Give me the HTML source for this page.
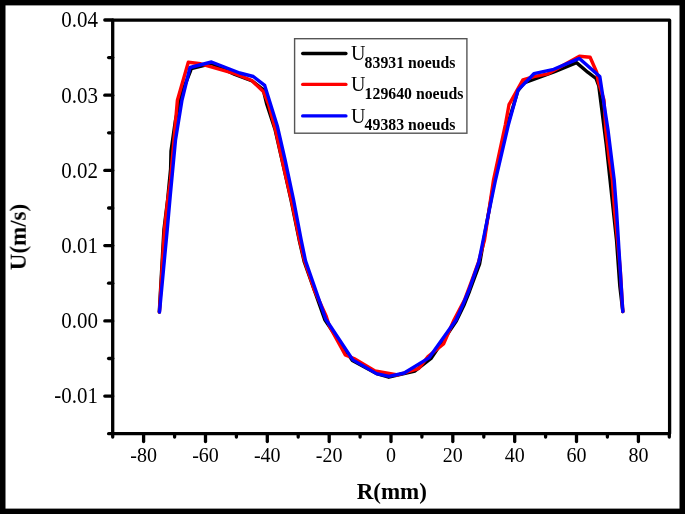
<!DOCTYPE html>
<html><head><meta charset="utf-8"><style>
html,body{margin:0;padding:0;background:#000;}
#c{position:absolute;left:0;top:0;width:685px;height:514px;background:#000;}
svg{position:absolute;left:0;top:0;will-change:transform;}
.tky{font-family:"Liberation Serif",serif;font-size:21px;fill:#000;}
.tk{font-family:"Liberation Serif",serif;font-size:20px;fill:#000;}
.lu{font-family:"Liberation Serif",serif;font-size:20px;fill:#000;}
.ls{font-family:"Liberation Serif",serif;font-size:15.8px;font-weight:bold;fill:#000;}
.at{font-family:"Liberation Serif",serif;font-size:23px;font-weight:bold;fill:#000;}
</style></head><body><div id="c">
<svg width="685" height="514" viewBox="0 0 685 514">
<rect x="5.5" y="5.4" width="674" height="503.2" fill="#fff"/>
<rect x="112.7" y="20.1" width="556.9" height="413.5" fill="none" stroke="#000" stroke-width="3.3" stroke-linejoin="round"/>
<line x1="108.6" y1="433.7" x2="112.7" y2="433.7" stroke="#000" stroke-width="3.3" stroke-linecap="round"/>
<line x1="104.8" y1="396.1" x2="112.7" y2="396.1" stroke="#000" stroke-width="3.3" stroke-linecap="round"/>
<text transform="translate(97.9,403.4) scale(1,1.08)" text-anchor="end" class="tky">-0.01</text>
<line x1="108.6" y1="358.5" x2="112.7" y2="358.5" stroke="#000" stroke-width="3.3" stroke-linecap="round"/>
<line x1="104.8" y1="320.9" x2="112.7" y2="320.9" stroke="#000" stroke-width="3.3" stroke-linecap="round"/>
<text transform="translate(97.9,328.2) scale(1,1.08)" text-anchor="end" class="tky">0.00</text>
<line x1="108.6" y1="283.2" x2="112.7" y2="283.2" stroke="#000" stroke-width="3.3" stroke-linecap="round"/>
<line x1="104.8" y1="245.6" x2="112.7" y2="245.6" stroke="#000" stroke-width="3.3" stroke-linecap="round"/>
<text transform="translate(97.9,252.9) scale(1,1.08)" text-anchor="end" class="tky">0.01</text>
<line x1="108.6" y1="208.0" x2="112.7" y2="208.0" stroke="#000" stroke-width="3.3" stroke-linecap="round"/>
<line x1="104.8" y1="170.4" x2="112.7" y2="170.4" stroke="#000" stroke-width="3.3" stroke-linecap="round"/>
<text transform="translate(97.9,177.7) scale(1,1.08)" text-anchor="end" class="tky">0.02</text>
<line x1="108.6" y1="132.8" x2="112.7" y2="132.8" stroke="#000" stroke-width="3.3" stroke-linecap="round"/>
<line x1="104.8" y1="95.2" x2="112.7" y2="95.2" stroke="#000" stroke-width="3.3" stroke-linecap="round"/>
<text transform="translate(97.9,102.5) scale(1,1.08)" text-anchor="end" class="tky">0.03</text>
<line x1="108.6" y1="57.6" x2="112.7" y2="57.6" stroke="#000" stroke-width="3.3" stroke-linecap="round"/>
<line x1="104.8" y1="20.0" x2="112.7" y2="20.0" stroke="#000" stroke-width="3.3" stroke-linecap="round"/>
<text transform="translate(97.9,27.3) scale(1,1.08)" text-anchor="end" class="tky">0.04</text>
<line x1="112.7" y1="433.6" x2="112.7" y2="437.0" stroke="#000" stroke-width="3.3" stroke-linecap="round"/>
<line x1="143.6" y1="433.6" x2="143.6" y2="441.5" stroke="#000" stroke-width="3.3" stroke-linecap="round"/>
<text x="143.6" y="461.6" text-anchor="middle" class="tk">-80</text>
<line x1="174.6" y1="433.6" x2="174.6" y2="437.0" stroke="#000" stroke-width="3.3" stroke-linecap="round"/>
<line x1="205.5" y1="433.6" x2="205.5" y2="441.5" stroke="#000" stroke-width="3.3" stroke-linecap="round"/>
<text x="205.5" y="461.6" text-anchor="middle" class="tk">-60</text>
<line x1="236.4" y1="433.6" x2="236.4" y2="437.0" stroke="#000" stroke-width="3.3" stroke-linecap="round"/>
<line x1="267.3" y1="433.6" x2="267.3" y2="441.5" stroke="#000" stroke-width="3.3" stroke-linecap="round"/>
<text x="267.3" y="461.6" text-anchor="middle" class="tk">-40</text>
<line x1="298.2" y1="433.6" x2="298.2" y2="437.0" stroke="#000" stroke-width="3.3" stroke-linecap="round"/>
<line x1="329.2" y1="433.6" x2="329.2" y2="441.5" stroke="#000" stroke-width="3.3" stroke-linecap="round"/>
<text x="329.2" y="461.6" text-anchor="middle" class="tk">-20</text>
<line x1="360.1" y1="433.6" x2="360.1" y2="437.0" stroke="#000" stroke-width="3.3" stroke-linecap="round"/>
<line x1="391.0" y1="433.6" x2="391.0" y2="441.5" stroke="#000" stroke-width="3.3" stroke-linecap="round"/>
<text x="391.0" y="461.6" text-anchor="middle" class="tk">0</text>
<line x1="421.9" y1="433.6" x2="421.9" y2="437.0" stroke="#000" stroke-width="3.3" stroke-linecap="round"/>
<line x1="452.8" y1="433.6" x2="452.8" y2="441.5" stroke="#000" stroke-width="3.3" stroke-linecap="round"/>
<text x="452.8" y="461.6" text-anchor="middle" class="tk">20</text>
<line x1="483.8" y1="433.6" x2="483.8" y2="437.0" stroke="#000" stroke-width="3.3" stroke-linecap="round"/>
<line x1="514.7" y1="433.6" x2="514.7" y2="441.5" stroke="#000" stroke-width="3.3" stroke-linecap="round"/>
<text x="514.7" y="461.6" text-anchor="middle" class="tk">40</text>
<line x1="545.6" y1="433.6" x2="545.6" y2="437.0" stroke="#000" stroke-width="3.3" stroke-linecap="round"/>
<line x1="576.5" y1="433.6" x2="576.5" y2="441.5" stroke="#000" stroke-width="3.3" stroke-linecap="round"/>
<text x="576.5" y="461.6" text-anchor="middle" class="tk">60</text>
<line x1="607.4" y1="433.6" x2="607.4" y2="437.0" stroke="#000" stroke-width="3.3" stroke-linecap="round"/>
<line x1="638.4" y1="433.6" x2="638.4" y2="441.5" stroke="#000" stroke-width="3.3" stroke-linecap="round"/>
<text x="638.4" y="461.6" text-anchor="middle" class="tk">80</text>
<line x1="669.3" y1="433.6" x2="669.3" y2="437.0" stroke="#000" stroke-width="3.3" stroke-linecap="round"/>
<polyline points="159.3,312.0 163.9,230.0 167.6,200.0 170.6,169.0 171.0,151.0 175.5,120.0 181.0,95.0 191.4,68.7 211.5,63.5 234.8,74.5 252.2,81.0 263.2,89.5 266.7,104.0 275.2,130.0 284.3,170.0 291.0,200.0 299.2,240.0 304.3,262.0 324.8,319.8 352.4,360.5 376.5,373.6 388.8,377.2 415.0,371.0 431.0,358.5 456.3,321.0 463.8,305.5 469.6,291.0 479.6,264.0 485.5,230.0 494.5,180.0 507.5,125.0 517.8,91.0 524.0,83.0 554.0,72.0 576.5,62.6 587.7,72.2 596.0,78.5 598.8,86.0 606.3,145.0 616.5,240.0 619.8,286.0 622.8,311.5" fill="none" stroke="#000" stroke-width="3.4" stroke-linejoin="round" stroke-linecap="round"/>
<polyline points="159.4,312.0 164.4,230.0 167.7,200.0 170.5,180.0 173.1,150.0 177.4,100.2 188.3,62.3 200.6,63.8 234.8,73.6 251.8,80.5 263.6,91.8 268.5,104.0 275.5,130.0 284.3,170.0 291.3,200.0 299.5,240.0 304.4,260.5 314.3,290.0 326.3,316.5 329.3,326.0 345.3,355.0 354.0,358.5 375.0,371.0 397.6,375.0 419.0,368.3 428.0,356.5 443.5,344.0 454.0,320.0 464.5,300.0 472.0,280.0 478.5,262.0 484.5,240.0 493.5,180.0 505.3,125.0 509.0,104.7 522.9,79.8 533.9,76.6 548.0,73.8 579.4,56.3 590.1,57.3 596.7,72.2 598.3,82.0 604.0,100.0 605.8,130.0 609.4,160.0 612.4,180.0 614.5,210.0 617.5,240.0 620.3,270.0 622.8,311.5" fill="none" stroke="#f00" stroke-width="3.4" stroke-linejoin="round" stroke-linecap="round"/>
<polyline points="159.5,312.0 167.2,230.0 170.3,195.0 175.5,140.0 182.0,100.0 190.0,67.5 211.5,62.0 239.7,73.0 253.3,76.5 264.7,85.4 277.3,126.0 285.1,160.0 293.6,200.0 301.2,240.0 305.5,260.8 325.8,319.3 352.8,359.9 376.5,373.6 389.0,376.4 404.2,373.0 429.3,357.6 456.0,320.0 463.0,304.5 469.0,290.0 478.8,262.0 485.2,230.0 495.5,180.0 508.3,125.0 518.0,90.1 533.9,73.7 553.7,69.3 579.4,58.4 599.8,76.5 608.0,130.0 614.2,180.0 616.5,210.0 622.8,311.5" fill="none" stroke="#00f" stroke-width="3.4" stroke-linejoin="round" stroke-linecap="round"/>
<rect x="294.6" y="38.7" width="172.3" height="94.5" fill="#fff" stroke="#555" stroke-width="1.4"/>
<line x1="302.7" y1="53.5" x2="345.9" y2="53.5" stroke="#000" stroke-width="3.4" stroke-linecap="round"/>
<text x="351" y="60.1" class="lu">U</text>
<text transform="translate(364.6,67.6) scale(1,1.07)" class="ls">83931 noeuds</text>
<line x1="302.7" y1="84.4" x2="345.9" y2="84.4" stroke="#f00" stroke-width="3.4" stroke-linecap="round"/>
<text x="351" y="91.0" class="lu">U</text>
<text transform="translate(364.6,98.5) scale(1,1.07)" class="ls">129640 noeuds</text>
<line x1="302.7" y1="115.9" x2="345.9" y2="115.9" stroke="#00f" stroke-width="3.4" stroke-linecap="round"/>
<text x="351" y="122.5" class="lu">U</text>
<text transform="translate(364.6,130.0) scale(1,1.07)" class="ls">49383 noeuds</text>
<text x="391.8" y="499" text-anchor="middle" class="at">R(mm)</text>
<text transform="translate(25.7,237) rotate(-90)" x="0" y="0" text-anchor="middle" class="at">U(m/s)</text>
</svg></div></body></html>
